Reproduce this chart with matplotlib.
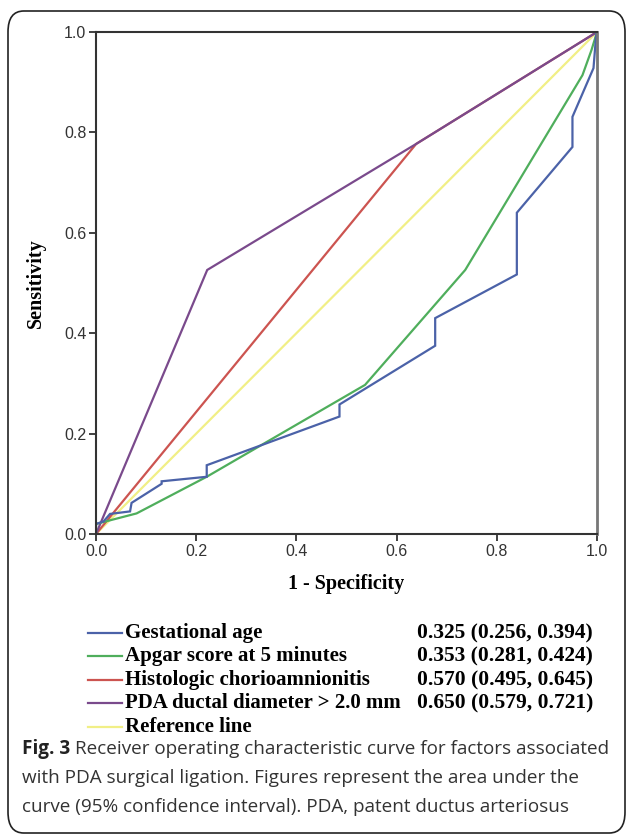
import matplotlib
matplotlib.use("Agg")
import matplotlib.pyplot as plt
from matplotlib.patches import FancyBboxPatch

# ROC curve points (1 - specificity, sensitivity)
gest_x = [0.0, 0.0, 0.015, 0.028, 0.068, 0.071, 0.131, 0.131, 0.221, 0.221, 0.486, 0.486, 0.677, 0.677, 0.840, 0.840, 0.951, 0.951, 0.993, 0.998, 1.0]
gest_y = [0.0, 0.02, 0.025, 0.04, 0.045, 0.062, 0.10, 0.105, 0.114, 0.137, 0.234, 0.258, 0.375, 0.430, 0.517, 0.640, 0.771, 0.831, 0.928, 0.99, 1.0]

apgar_x = [0.0, 0.0, 0.081, 0.221, 0.537, 0.737, 0.971, 0.989, 1.0]
apgar_y = [0.0, 0.02, 0.041, 0.114, 0.297, 0.526, 0.914, 0.964, 1.0]

chorio_x = [0.0, 0.639, 1.0]
chorio_y = [0.0, 0.777, 1.0]

pda_x = [0.0, 0.222, 0.639, 1.0]
pda_y = [0.0, 0.526, 0.777, 1.0]

ref_x = [0.0, 1.0]
ref_y = [0.0, 1.0]

labels = ["Gestational age", "Apgar score at 5 minutes", "Histologic chorioamnionitis",
          "PDA ductal diameter > 2.0 mm", "Reference line"]
auc_text = ["0.325 (0.256, 0.394)", "0.353 (0.281, 0.424)", "0.570 (0.495, 0.645)",
            "0.650 (0.579, 0.721)", ""]
colors = ["#4b62a8", "#4fae5c", "#cc5450", "#7a4a8c", "#f1ef86"]

W, H = 630, 839
fig = plt.figure(figsize=(W / 100, H / 100), dpi=100)

# rounded frame around the whole figure panel
frame = FancyBboxPatch((8 / W, 6 / H), 617 / W, 822 / H,
                       boxstyle="round,pad=0,rounding_size=0.025",
                       transform=fig.transFigure, fill=False, ec="#222222", lw=1.2)
fig.patches.append(frame)

ax = fig.add_axes([96 / W, (H - 534) / H, 501 / W, 502 / H])

series = [(gest_x, gest_y), (apgar_x, apgar_y), (chorio_x, chorio_y), (pda_x, pda_y), (ref_x, ref_y)]
# reference line drawn first so the curves sit on top
order = [4, 2, 3, 1, 0]
for i in order:
    x, y = series[i]
    ax.plot(x, y, color=colors[i], lw=1.6, solid_joinstyle="miter")

ax.set_xlim(0, 1)
ax.set_ylim(0, 1)
ax.set_xticks([0, 0.2, 0.4, 0.6, 0.8, 1.0])
ax.set_yticks([0, 0.2, 0.4, 0.6, 0.8, 1.0])
ax.set_xticklabels(["0.0", "0.2", "0.4", "0.6", "0.8", "1.0"])
ax.set_yticklabels(["0.0", "0.2", "0.4", "0.6", "0.8", "1.0"])
for lab in ax.get_xticklabels() + ax.get_yticklabels():
    lab.set_family("Liberation Sans")
    lab.set_fontsize(11.5)
    lab.set_color("#333333")
ax.tick_params(direction="out", length=5, width=1.3, color="#333333", pad=2)
for sp in ax.spines.values():
    sp.set_linewidth(1.5)
    sp.set_color("#333333")
ax.spines["right"].set_color("#777777")
ax.spines["right"].set_linewidth(2)

ax.set_xlabel("1 - Specificity", family="Liberation Serif", fontweight="bold", fontsize=14.5,
              va="center")
ax.set_ylabel("Sensitivity", family="Liberation Serif", fontweight="bold", fontsize=14.5,
              va="center")
ax.xaxis.set_label_coords(0.5, (534 - 584) / 502)
ax.yaxis.set_label_coords((36 - 96) / 501, 0.5)

# legend block: short line + label + AUC (95% CI)
row_y = [633, 656, 680, 703, 727]
for i in range(5):
    yy = 1 - row_y[i] / H
    fig.add_artist(plt.Line2D([88 / W, 122 / W], [yy, yy], color=colors[i], lw=1.6,
                              transform=fig.transFigure))
    fig.text(125 / W, yy, labels[i], family="Liberation Serif", fontweight="bold",
             fontsize=15, va="center", ha="left")
    if auc_text[i]:
        fig.text(417 / W, yy, auc_text[i], family="Liberation Serif", fontweight="bold",
                 fontsize=15.5, va="center", ha="left")

# caption with bold "Fig. 3" lead-in
cap_lines = ["Receiver operating characteristic curve for factors associated",
             "with PDA surgical ligation. Figures represent the area under the",
             "curve (95% confidence interval). PDA, patent ductus arteriosus"]
cap_y = [749, 778, 807]
fig.canvas.draw()
t = fig.text(22 / W, 1 - cap_y[0] / H, "Fig. 3", family="Open Sans", fontweight="bold",
             fontsize=13.6, va="center", ha="left", color="#222222")
bb = t.get_window_extent(renderer=fig.canvas.get_renderer())
fig.text(bb.x1 / W + 5 / W, 1 - cap_y[0] / H, cap_lines[0], family="Open Sans",
         fontsize=13.6, va="center", ha="left", color="#333333")
for k in (1, 2):
    fig.text(22 / W, 1 - cap_y[k] / H, cap_lines[k], family="Open Sans",
             fontsize=13.6, va="center", ha="left", color="#333333")

fig.savefig("out.png", dpi=100)
